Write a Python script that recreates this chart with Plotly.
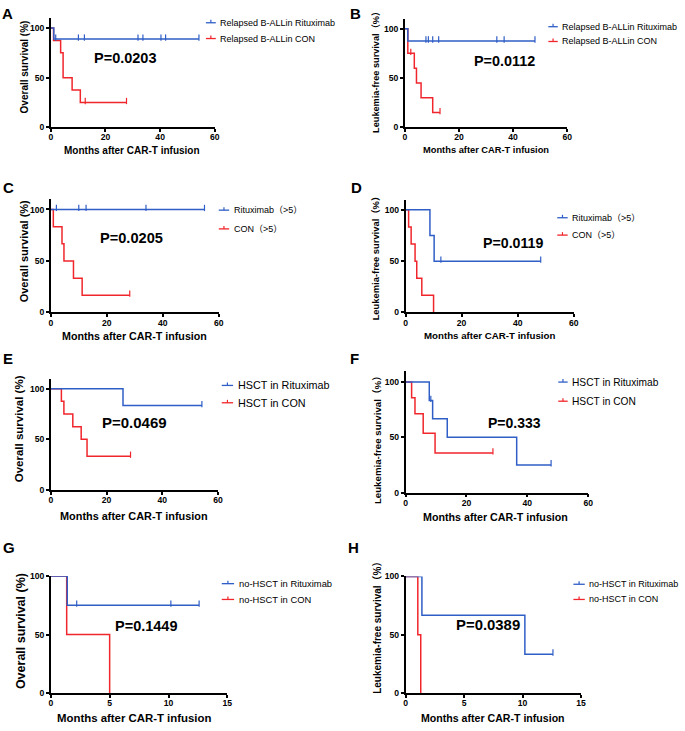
import plotly.graph_objects as go

# ---------------- data ----------------
# Panel A: OS, relapsed B-ALL
A_rit_time = [0, 1.1, 54.2]
A_rit_surv = [100, 88.9, 88.9]
A_rit_cens = [1.8, 10.1, 12.3, 31.9, 33.7, 40.3, 42.0, 54.2]
A_con_time = [0, 1.0, 3.6, 4.5, 7.8, 10.8, 27.7]
A_con_surv = [100, 87.5, 75, 50, 37.5, 25, 25]
A_con_cens = [12.6, 27.7]

# Panel B: LFS, relapsed B-ALL
B_rit_time = [0, 1.1, 48.1]
B_rit_surv = [100, 87.5, 87.5]
B_rit_cens = [7.8, 8.7, 10.3, 12.5, 34.0, 36.7, 48.1]
B_con_time = [0, 1.1, 3.5, 4.3, 6.0, 10.3, 13.0]
B_con_surv = [100, 75, 60, 45, 30, 15, 15]
B_con_cens = [2.2, 13.0]

# Panel C: OS, >5
C_rit_time = [0, 54.9]
C_rit_surv = [100, 100]
C_rit_cens = [2.0, 10.0, 12.6, 34.0, 54.9]
C_con_time = [0, 0.9, 4.0, 4.7, 8.1, 11.2, 28.2]
C_con_surv = [100, 83.3, 66.7, 50, 33.3, 16.7, 16.7]
C_con_cens = [28.2]

# Panel D: LFS, >5
D_rit_time = [0, 8.7, 10.2, 48.2]
D_rit_surv = [100, 75, 50, 50]
D_rit_cens = [12.6, 48.2]
D_con_time = [0, 1.1, 2.0, 3.4, 4.0, 5.8, 10.0]
D_con_surv = [100, 83.3, 66.7, 50, 33.3, 16.7, 0]
D_con_cens = []

# Panel E: OS, HSCT
E_rit_time = [0, 25.9, 54.2]
E_rit_surv = [100, 83.3, 83.3]
E_rit_cens = [54.2]
E_con_time = [0, 3.8, 4.7, 7.9, 10.9, 13.0, 28.6]
E_con_surv = [100, 87.5, 75, 62.5, 50, 33.3, 33.3]
E_con_cens = [28.6]

# Panel F: LFS, HSCT
F_rit_time = [0, 7.8, 8.9, 13.7, 36.5, 47.8]
F_rit_surv = [100, 83.3, 66.7, 50, 25, 25]
F_rit_cens = [8.3, 47.8]
F_con_time = [0, 2.0, 3.1, 5.8, 9.7, 28.7]
F_con_surv = [100, 85.7, 71.4, 53.6, 35.7, 35.7]
F_con_cens = [28.7]

# Panel G: OS, no-HSCT
G_rit_time = [0, 1.4, 12.6]
G_rit_surv = [100, 75, 75]
G_rit_cens = [2.2, 10.2, 12.6]
G_con_time = [0, 1.35, 5.0]
G_con_surv = [100, 50, 0]
G_con_cens = []

# Panel H: LFS, no-HSCT
H_rit_time = [0, 1.4, 10.2, 12.6]
H_rit_surv = [100, 66.7, 33.3, 33.3]
H_rit_cens = [12.6]
H_con_time = [0, 1.05, 1.3]
H_con_surv = [100, 50, 0]
H_con_cens = []

panel_letters = ["A", "B", "C", "D", "E", "F", "G", "H"]
p_values = ["P=0.0203", "P=0.0112", "P=0.0205", "P=0.0119",
            "P=0.0469", "P=0.333", "P=0.1449", "P=0.0389"]
legend_rit = ["Relapsed B-ALLin Rituximab", "Relapsed B-ALLin Rituximab",
              "Rituximab（>5）", "Rituximab（>5）",
              "HSCT in Rituximab", "HSCT in Rituximab",
              "no-HSCT in Rituximab", "no-HSCT in Rituximab"]
legend_con = ["Relapsed B-ALLin CON", "Relapsed B-ALLin CON",
              "CON（>5）", "CON（>5）",
              "HSCT in CON", "HSCT in CON",
              "no-HSCT in CON", "no-HSCT in CON"]
os_title = "Overall survival (%)"
lfs_title = "Leukemia-free survival（%）"
y_titles = [os_title, lfs_title] * 4
x_title = "Months after CAR-T infusion"
x_ticks_long = [0, 20, 40, 60]
x_ticks_short = [0, 5, 10, 15]
y_ticks = [0, 50, 100]

series = [
    (A_rit_time, A_rit_surv, A_rit_cens, A_con_time, A_con_surv, A_con_cens),
    (B_rit_time, B_rit_surv, B_rit_cens, B_con_time, B_con_surv, B_con_cens),
    (C_rit_time, C_rit_surv, C_rit_cens, C_con_time, C_con_surv, C_con_cens),
    (D_rit_time, D_rit_surv, D_rit_cens, D_con_time, D_con_surv, D_con_cens),
    (E_rit_time, E_rit_surv, E_rit_cens, E_con_time, E_con_surv, E_con_cens),
    (F_rit_time, F_rit_surv, F_rit_cens, F_con_time, F_con_surv, F_con_cens),
    (G_rit_time, G_rit_surv, G_rit_cens, G_con_time, G_con_surv, G_con_cens),
    (H_rit_time, H_rit_surv, H_rit_cens, H_con_time, H_con_surv, H_con_cens),
]

# ---------------- layout geometry (pixels) ----------------
W, H = 685, 731
BLUE = "#2F5EC6"
RED = "#F0262C"
FONT = "Liberation Sans, Arial, Noto Sans CJK SC, sans-serif"

geo = [
    dict(x0=49.3, x1=215.0, yb=124.0, yt=13.3, xmax=60, ymax=110,
         ytx=23, yty=62.5, ytfs=10, xtx=131, xty=147.5, xtfs=10,
         px=124.5, py=54, pfs=14.5, lx=206, lt=219.5, ly=(18, 34), lfs=9,
         lab=(6, 8.5)),
    dict(x0=407.0, x1=571.0, yb=124.0, yt=14.0, xmax=60, ymax=110,
         ytx=377.7, yty=66, ytfs=9.2, xtx=489, xty=147.5, xtfs=9.3,
         px=508, py=56.7, pfs=14.4, lx=552, lt=565, ly=(22, 37), lfs=9,
         lab=(357.5, 8.5)),
    dict(x0=49.3, x1=219.0, yb=311.7, yt=196.9, xmax=60, ymax=110,
         ytx=22, yty=250, ytfs=11, xtx=134, xty=335.5, xtfs=10.7,
         px=130.5, py=236.7, pfs=14.6, lx=219, lt=233, ly=(208, 227), lfs=9,
         lab=(7, 185.3)),
    dict(x0=407.7, x1=577.7, yb=311.7, yt=197.3, xmax=60, ymax=110,
         ytx=377.7, yty=254, ytfs=9.4, xtx=492.5, xty=335.5, xtfs=9.7,
         px=516, py=241.7, pfs=14.2, lx=561, lt=575, ly=(215.7, 233.3), lfs=9,
         lab=(358, 185.3)),
    dict(x0=49.3, x1=218.3, yb=491.7, yt=378.7, xmax=60, ymax=110,
         ytx=17.3, yty=430, ytfs=11.5, xtx=133, xty=518.5, xtfs=10.9,
         px=134, py=423.3, pfs=15, lx=222, lt=237, ly=(385.7, 403.3), lfs=10.8,
         lab=(6, 358)),
    dict(x0=407.7, x1=592.3, yb=494.3, yt=371.1, xmax=60, ymax=110,
         ytx=380, yty=439, ytfs=9.7, xtx=499, xty=519.5, xtfs=10.7,
         px=518, py=423.3, pfs=14, lx=562, lt=575, ly=(382.3, 401.7), lfs=10.2,
         lab=(356.5, 358)),
    dict(x0=49.3, x1=227.7, yb=697.7, yt=579.0, xmax=15, ymax=100,
         ytx=20, yty=635, ytfs=12.5, xtx=133.5, xty=722.7, xtfs=11.4,
         px=146.3, py=630, pfs=14.5, lx=222, lt=238, ly=(586.7, 602.7), lfs=9.4,
         lab=(7.5, 550)),
    dict(x0=407.7, x1=585.0, yb=697.7, yt=579.3, xmax=15, ymax=100,
         ytx=379.3, yty=629, ytfs=10, xtx=496, xty=722.7, xtfs=10.6,
         px=491, py=628.3, pfs=14.9, lx=577.3, lt=592.3, ly=(587.3, 602.7), lfs=9.0,
         lab=(355.5, 550)),
]


def fx(px):
    return px / W


def fy(py):
    return 1 - py / H


def step_value(times, survs, t):
    v = survs[0]
    for tt, ss in zip(times, survs):
        if tt <= t:
            v = ss
    return v


fig = go.Figure()
annotations = []
shapes = []
layout_axes = {}

for i, (g, s) in enumerate(zip(geo, series)):
    n = i + 1
    xa = "x" if n == 1 else f"x{n}"
    ya = "y" if n == 1 else f"y{n}"
    rt, rs, rc, ct, cs, cc = s
    for (tm, sv, cens, col) in [(ct, cs, cc, RED), (rt, rs, rc, BLUE)]:
        fig.add_trace(go.Scatter(
            x=tm, y=sv, mode="lines", line=dict(color=col, width=1.5, shape="hv"),
            xaxis=xa, yaxis=ya, showlegend=False, cliponaxis=False,
            hoverinfo="skip"))
        if cens:
            fig.add_trace(go.Scatter(
                x=cens, y=[step_value(tm, sv, c) + 1.5 for c in cens], mode="markers",
                marker=dict(symbol="line-ns", size=4.5,
                            line=dict(color=col, width=1.2)),
                xaxis=xa, yaxis=ya, showlegend=False, cliponaxis=False,
                hoverinfo="skip"))

    xticks = x_ticks_long if g["xmax"] == 60 else x_ticks_short
    axis_common = dict(showline=True, linecolor="black", linewidth=1.5,
                       ticks="outside", ticklen=3, tickwidth=1.5, tickcolor="black",
                       showgrid=False, zeroline=False,
                       tickfont=dict(family=FONT, size=8.6, color="black", weight="bold"))
    layout_axes["xaxis" if n == 1 else f"xaxis{n}"] = dict(
        domain=[fx(g["x0"]), fx(g["x1"])], range=[0, g["xmax"]],
        anchor=ya, tickvals=xticks, ticktext=[str(v) for v in xticks],
        ticklabelstandoff=-2, **axis_common)
    layout_axes["yaxis" if n == 1 else f"yaxis{n}"] = dict(
        domain=[fy(g["yb"]), fy(g["yt"])], range=[0, g["ymax"]],
        anchor=xa, tickvals=y_ticks, ticktext=[str(v) for v in y_ticks],
        **axis_common)

    annotations.append(dict(text=y_titles[i], x=fx(g["ytx"]), y=fy(g["yty"]),
                            textangle=-90, showarrow=False,
                            font=dict(family=FONT, size=g["ytfs"], color="black", weight="bold")))
    annotations.append(dict(text=x_title, x=fx(g["xtx"]), y=fy(g["xty"]),
                            showarrow=False,
                            font=dict(family=FONT, size=g["xtfs"], color="black", weight="bold")))
    annotations.append(dict(text=p_values[i], x=fx(g["px"]), y=fy(g["py"]),
                            showarrow=False,
                            font=dict(family=FONT, size=g["pfs"], color="black", weight="bold")))
    annotations.append(dict(text=panel_letters[i], x=fx(g["lab"][0]), y=fy(g["lab"][1]),
                            showarrow=False,
                            font=dict(family=FONT, size=15, color="black", weight="bold")))
    for (txt, yy, col) in [(legend_rit[i], g["ly"][0], BLUE), (legend_con[i], g["ly"][1], RED)]:
        x_a, x_b = g["lx"], g["lt"] - 3.5
        shapes.append(dict(type="line", xref="paper", yref="paper",
                           x0=fx(x_a), x1=fx(x_b), y0=fy(yy), y1=fy(yy),
                           line=dict(color=col, width=1.3)))
        xm = (x_a + x_b) / 2
        shapes.append(dict(type="line", xref="paper", yref="paper",
                           x0=fx(xm), x1=fx(xm), y0=fy(yy), y1=fy(yy - 3),
                           line=dict(color=col, width=1.2)))
        annotations.append(dict(text=txt, x=fx(g["lt"]), y=fy(yy), xanchor="left",
                                yanchor="middle", showarrow=False, borderpad=0,
                                font=dict(family=FONT, size=g["lfs"], color="black")))

for a in annotations:
    a.setdefault("xref", "paper")
    a.setdefault("yref", "paper")
    a.setdefault("xanchor", "center")
    a.setdefault("yanchor", "middle")
    a.setdefault("borderpad", 0)

fig.update_layout(
    width=W, height=H, margin=dict(l=0, r=0, t=0, b=0),
    paper_bgcolor="white", plot_bgcolor="white",
    annotations=annotations, shapes=shapes, showlegend=False,
    **layout_axes)

fig.write_html("out.html", config={"displayModeBar": False},
               post_script="document.body.style.margin='0px';"
                           "document.body.style.overflow='hidden';")
